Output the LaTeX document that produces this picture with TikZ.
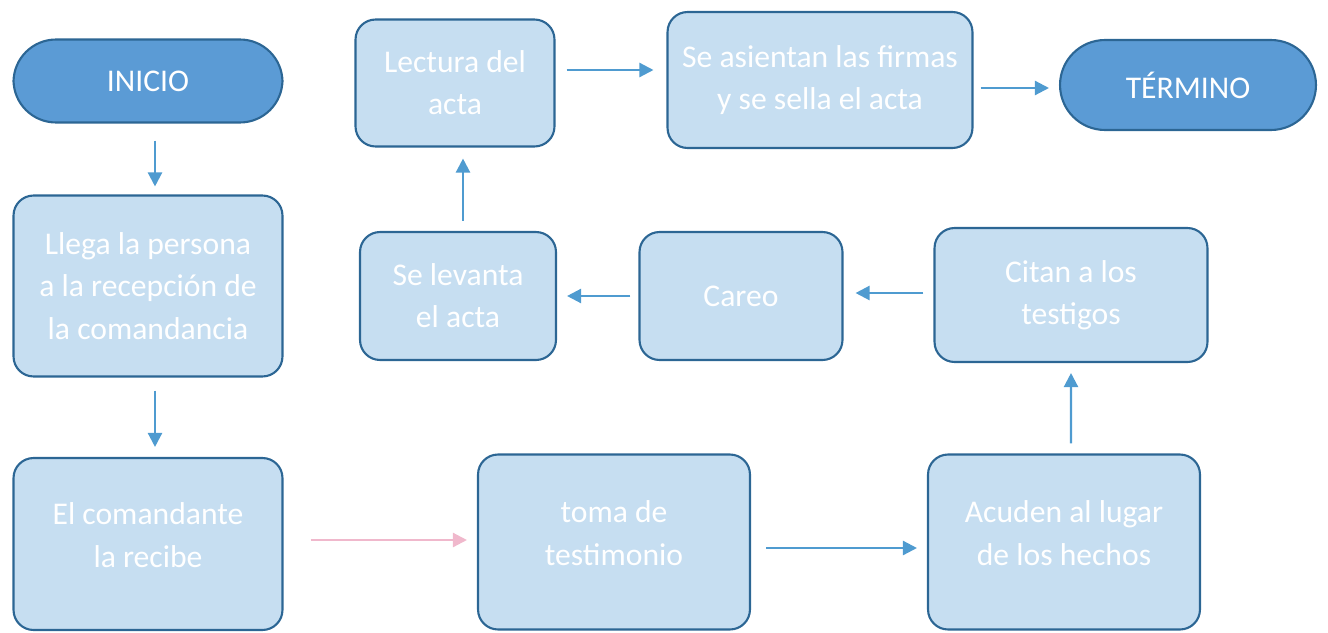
\documentclass[tikz,border=0pt]{standalone}
\usepackage{fontspec}
\setmainfont{Carlito}
\usepackage{tikz}
\usetikzlibrary{arrows.meta, positioning, calc}
\definecolor{BoxBlue}{HTML}{C6DEF1}
\definecolor{EdgeBlue}{HTML}{2C6694}
\definecolor{CapBlue}{HTML}{5B9BD5}
\definecolor{ArrowBlue}{HTML}{4F9BD0}
\definecolor{SoftPink}{HTML}{F0B8CC}

\begin{document}
\begin{tikzpicture}[x=0.02cm, y=-0.02cm,
    paso/.style={draw=EdgeBlue, line width=1.2pt, fill=BoxBlue, rounded corners=0.4cm,
        text=white, align=center, inner sep=0pt,
        font=\fontsize{18}{24}\selectfont},
    pasobajo/.style={paso, text depth=0.36cm},
    capsula/.style={draw=EdgeBlue, line width=1.2pt, fill=CapBlue, rounded corners=0.85cm,
        text=white, align=center, inner sep=0pt,
        font=\fontsize{18}{24}\selectfont},
    flecha/.style={draw=ArrowBlue, line width=1.3pt, -{Triangle[length=8pt, width=8pt]}}]
\useasboundingbox (0,0) rectangle (1328,632);

% fila superior
\node[capsula, minimum width=5.38cm, minimum height=1.66cm] (inicio) at (148,81) {INICIO};
\node[paso, minimum width=3.98cm, minimum height=2.54cm] (lectura) at (455,83) {Lectura del\\acta};
\node[paso, minimum width=6.1cm, minimum height=2.72cm] (asientan) at (820,80) {Se asientan las firmas\\y se sella el acta};
\node[capsula, minimum width=5.12cm, minimum height=1.8cm, rounded corners=0.9cm] (termino) at (1188,85) {TÉRMINO};

% fila media
\node[paso, minimum width=5.38cm, minimum height=3.62cm] (llega) at (148,286) {Llega la persona\\a la recepción de\\la comandancia};
\node[paso, minimum width=3.92cm, minimum height=2.56cm] (levanta) at (458,296) {Se levanta\\el acta};
\node[paso, minimum width=4.06cm, minimum height=2.56cm] (careo) at (741,296) {Careo};
\node[paso, minimum width=5.46cm, minimum height=2.68cm] (citan) at (1071,295) {Citan a los\\testigos};

% fila inferior
\node[pasobajo, minimum width=5.38cm, minimum height=3.44cm] (comandante) at (148,544) {El comandante\\la recibe};
\node[pasobajo, minimum width=5.44cm, minimum height=3.5cm] (toma) at (614,542) {toma de\\testimonio};
\node[pasobajo, minimum width=5.44cm, minimum height=3.5cm] (acuden) at (1064,542) {Acuden al lugar\\de los hechos};

% conectores
\draw[flecha] ([xshift=.14cm, yshift=-.34cm]inicio.south) -- ([xshift=.14cm, yshift=.16cm]llega.north);
\draw[flecha] ([xshift=.14cm, yshift=-.26cm]llega.south) -- ([xshift=.14cm, yshift=.2cm]comandante.north);
\draw[flecha, draw=SoftPink] ([xshift=.54cm, yshift=.08cm]comandante.east) -- ([xshift=-.2cm, yshift=.08cm]comandante.east -| toma.west);
\draw[flecha] ([xshift=.3cm, yshift=-.12cm]toma.east) -- ([xshift=-.2cm, yshift=-.12cm]toma.east -| acuden.west);
\draw[flecha] ([xshift=.14cm, yshift=.2cm]acuden.north) -- ([yshift=-.2cm]citan.south);
\draw[flecha] ([xshift=-.2cm, yshift=.04cm]citan.west) -- ([xshift=.24cm, yshift=.04cm]citan.west -| careo.east);
\draw[flecha] ([xshift=-.16cm]careo.west) -- ([xshift=.2cm]careo.west -| levanta.east);
\draw[flecha] ([xshift=.1cm, yshift=.2cm]levanta.north) -- ([xshift=.1cm, yshift=-.22cm]levanta.north |- lectura.south);
\draw[flecha] ([xshift=.22cm, yshift=.26cm]lectura.east) -- ([xshift=-.26cm, yshift=.26cm]lectura.east -| asientan.west);
\draw[flecha] ([xshift=.14cm, yshift=-.16cm]asientan.east) -- ([xshift=-.2cm, yshift=-.16cm]asientan.east -| termino.west);
\end{tikzpicture}
\end{document}
